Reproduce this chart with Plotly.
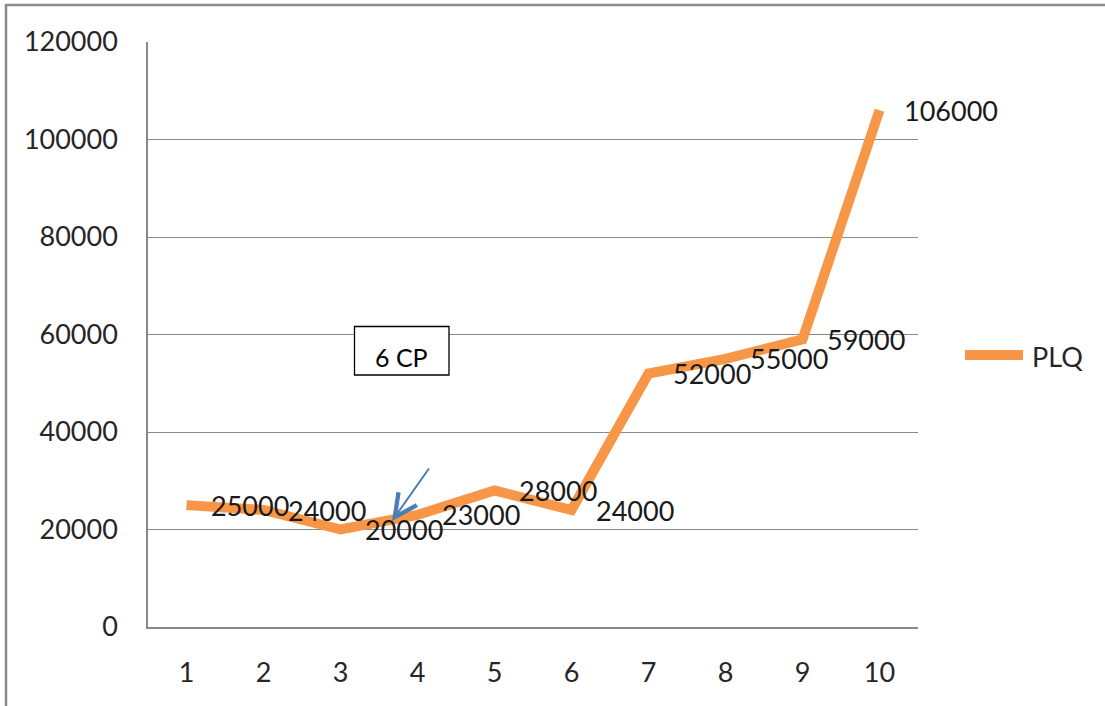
import plotly.graph_objects as go

# Series data
periods = [1, 2, 3, 4, 5, 6, 7, 8, 9, 10]
plq = [25000, 24000, 20000, 23000, 28000, 24000, 52000, 55000, 59000, 106000]
series_name = "PLQ"
y_ticks = [0, 20000, 40000, 60000, 80000, 100000, 120000]
box_label = "6 CP"

W, H = 1105, 706
L, R, T, B = 148, 918, 42, 627
FONT = "Lato, Calibri, Open Sans, sans-serif"
ORANGE = "#f79646"
GRID = "#898989"
TEXT = "#262626"


def px(x):
    return (x - L) / (R - L)


def py(y):
    return (B - y) / (B - T)


fig = go.Figure()
fig.add_trace(go.Scatter(
    x=periods, y=plq, mode="lines", name=series_name,
    line=dict(color=ORANGE, width=10, shape="linear"),
    showlegend=False, hoverinfo="x+y",
))

# Value labels to the right of each point
for xv, yv in zip(periods, plq):
    fig.add_annotation(
        x=xv, y=yv, xref="x", yref="y", text=str(yv), showarrow=False,
        xanchor="left", yanchor="middle", xshift=22,
        font=dict(family=FONT, size=27, color="#1a1a1a"),
    )

shapes = []
# Outer frame (left and top edges)
shapes.append(dict(type="line", xref="paper", yref="paper",
                   x0=px(6), x1=px(6), y0=py(4), y1=py(H + 5),
                   line=dict(color="#8a8a8a", width=2.5)))
shapes.append(dict(type="line", xref="paper", yref="paper",
                   x0=px(5), x1=px(W + 5), y0=py(5), y1=py(5),
                   line=dict(color="#8a8a8a", width=2.5)))
# Text box
shapes.append(dict(type="rect", xref="paper", yref="paper", layer="above",
                   x0=px(354.5), x1=px(449), y0=py(375), y1=py(326.5),
                   fillcolor="white", line=dict(color="black", width=1.3)))
# Manual legend sample
shapes.append(dict(type="line", xref="paper", yref="paper",
                   x0=px(965), x1=px(1023), y0=py(355), y1=py(355),
                   line=dict(color=ORANGE, width=10)))
fig.update_layout(shapes=shapes)

fig.add_annotation(x=px(401), y=py(357), xref="paper", yref="paper",
                   xanchor="center", yanchor="middle",
                   text=box_label, showarrow=False,
                   font=dict(family=FONT, size=25, color="black"))
fig.add_annotation(x=px(1030), y=py(356), xref="paper", yref="paper",
                   text=series_name, showarrow=False, xanchor="left",
                   yanchor="middle",
                   font=dict(family=FONT, size=27, color=TEXT))

# Pointer arrow
fig.add_annotation(x=px(392), y=py(521), xref="paper", yref="paper",
                   ax=38, ay=-54, axref="pixel", ayref="pixel",
                   text="", showarrow=True, arrowhead=5, arrowsize=2.2,
                   arrowwidth=2, arrowcolor="#4a7ebb")

fig.update_layout(
    width=W, height=H,
    margin=dict(l=L, r=W - R, t=T, b=H - B, pad=0),
    paper_bgcolor="white", plot_bgcolor="white",
    showlegend=False,
    font=dict(family=FONT, size=27, color=TEXT),
    xaxis=dict(
        range=[0.5, 10.5], tickvals=periods, ticktext=[str(p) for p in periods],
        showgrid=False, zeroline=False, showline=True, linecolor=GRID,
        linewidth=1.5, ticks="", ticklabelstandoff=21,
        tickfont=dict(family=FONT, size=27, color=TEXT),
    ),
    yaxis=dict(
        range=[0, 120000], tickvals=y_ticks, ticktext=[str(v) for v in y_ticks],
        showgrid=True, gridcolor=GRID, gridwidth=1.2, zeroline=False,
        showline=True, linecolor=GRID, linewidth=1.5, ticks="",
        ticklabelstandoff=23,
        tickfont=dict(family=FONT, size=27, color=TEXT),
    ),
)

fig.write_html("out.html")
